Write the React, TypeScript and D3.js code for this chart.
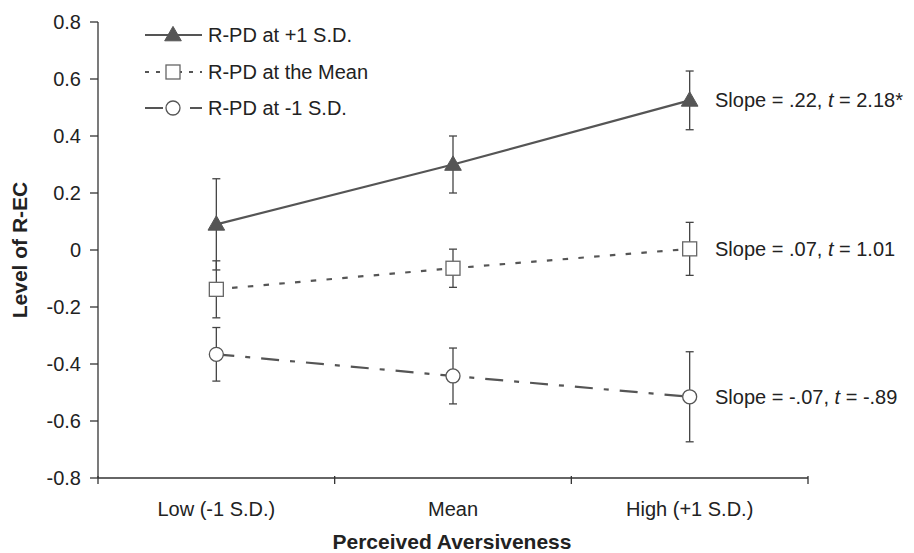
import React from "react";
import * as d3 from "d3";

const categories = ["Low (-1 S.D.)", "Mean", "High (+1 S.D.)"];
const seriesNames = ["R-PD at +1 S.D.", "R-PD at the Mean", "R-PD at -1 S.D."];
const highValues = [0.09, 0.30, 0.525];
const highErrors = [0.16, 0.1, 0.103];
const meanValues = [-0.138, -0.064, 0.004];
const meanErrors = [0.1, 0.067, 0.093];
const lowValues = [-0.366, -0.442, -0.515];
const lowErrors = [0.094, 0.098, 0.158];
const slopeLabels = [
  { pre: "Slope = .22, ", t: "t", post: " = 2.18*" },
  { pre: "Slope = .07, ", t: "t", post: " = 1.01" },
  { pre: "Slope = -.07, ", t: "t", post: " = -.89" },
];
const yTicks = [0.8, 0.6, 0.4, 0.2, 0, -0.2, -0.4, -0.6, -0.8];

const W = 914;
const H = 553;
const left = 98;
const right = 808;
const top = 22;
const bottom = 478;
const font = "'Liberation Sans', Arial, sans-serif";
const lineColor = "#555";
const FS = 20;
const FSB = 21;

const fmt = (t: number) => (t === 0 ? "0" : (t < 0 ? "-" : "") + Math.abs(t).toFixed(1));

export default function App() {
  const x = d3.scaleBand<string>().domain(categories).range([left, right]);
  const y = d3.scaleLinear().domain([-0.8, 0.8]).range([bottom, top]);
  const cx = (c: string) => (x(c) as number) + x.bandwidth() / 2;

  const series = [
    { name: seriesNames[0], values: highValues, errors: highErrors, dash: "none", marker: "tri" },
    { name: seriesNames[1], values: meanValues, errors: meanErrors, dash: "5.5,10.3", marker: "sq" },
    { name: seriesNames[2], values: lowValues, errors: lowErrors, dash: "18,11,5,11", marker: "circ" },
  ];

  const line = d3
    .line<number>()
    .x((_, i) => cx(categories[i]))
    .y((v) => y(v));

  const marker = (type: string, px: number, py: number, key: string) => {
    if (type === "tri") {
      const sym = d3.symbol().type(d3.symbolTriangle).size(120)();
      return <path key={key} d={sym as string} transform={`translate(${px},${py + 1})`} fill="#555" stroke="#555" strokeWidth={1} />;
    }
    if (type === "sq") {
      return <rect key={key} x={px - 7} y={py - 7} width={14} height={14} fill="#fff" stroke="#666" strokeWidth={1.3} />;
    }
    return <circle key={key} cx={px} cy={py} r={7} fill="#fff" stroke="#555" strokeWidth={1.3} />;
  };

  const legendY = [35, 72, 108];

  return (
    <svg width={W} height={H} style={{ position: "absolute", left: 0, top: 0, background: "#fff" }} fontFamily={font}>
      {/* y axis */}
      <line x1={left} x2={left} y1={top} y2={bottom} stroke="#333" strokeWidth={1.3} />
      {yTicks.map((t) => (
        <g key={t}>
          <line x1={left - 8} x2={left} y1={y(t)} y2={y(t)} stroke="#333" strokeWidth={1.3} />
          <text x={81} y={y(t)} dy="0.35em" textAnchor="end" fontSize={FS} fill="#222">
            {fmt(t)}
          </text>
        </g>
      ))}
      {/* x axis */}
      <line x1={left} x2={right} y1={bottom} y2={bottom} stroke="#333" strokeWidth={1.3} />
      {[...categories.map((c) => x(c) as number), right].map((t, i) => (
        <line key={i} x1={t} x2={t} y1={bottom - 2} y2={bottom + 6} stroke="#333" strokeWidth={1.3} />
      ))}
      {categories.map((c) => (
        <text key={c} x={cx(c)} y={516} textAnchor="middle" fontSize={FS} fill="#222">
          {c}
        </text>
      ))}
      <text x={452} y={549} textAnchor="middle" fontSize={FSB} fontWeight="bold" fill="#222">
        Perceived Aversiveness
      </text>
      <text transform={`translate(27,250) rotate(-90)`} textAnchor="middle" fontSize={FSB} fontWeight="bold" fill="#222">
        Level of R-EC
      </text>

      {/* error bars */}
      {series.map((s) =>
        s.values.map((v, i) => {
          const px = cx(categories[i]);
          const y1 = y(v + s.errors[i]);
          const y2 = y(v - s.errors[i]);
          return (
            <g key={s.name + i} stroke="#444" strokeWidth={1.3}>
              <line x1={px} x2={px} y1={y1} y2={y2} />
              <line x1={px - 4} x2={px + 4} y1={y1} y2={y1} />
              <line x1={px - 4} x2={px + 4} y1={y2} y2={y2} />
            </g>
          );
        })
      )}
      {/* lines */}
      {series.map((s) => (
        <path key={s.name} d={line(s.values) as string} fill="none" stroke={lineColor} strokeWidth={2.2} strokeDasharray={s.dash} />
      ))}
      {/* markers */}
      {series.map((s) => s.values.map((v, i) => marker(s.marker, cx(categories[i]), y(v), s.name + "m" + i)))}

      {/* slope labels */}
      {series.map((s, k) => (
        <text key={"sl" + k} x={715} y={y(s.values[2])} dy="0.35em" fontSize={FS} fill="#222">
          {slopeLabels[k].pre}
          <tspan fontStyle="italic">{slopeLabels[k].t}</tspan>
          {slopeLabels[k].post}
        </text>
      ))}

      {/* legend */}
      {series.map((s, k) => (
        <g key={"lg" + k}>
          <line x1={145} x2={202} y1={legendY[k]} y2={legendY[k]} stroke={lineColor} strokeWidth={2.2}
            strokeDasharray={k === 1 ? "4,7" : k === 2 ? "18,11,5,11" : "none"} />
          {marker(s.marker, 173, legendY[k], "lgm" + k)}
          <text x={208} y={legendY[k]} dy="0.35em" fontSize={FS} fill="#222">
            {s.name}
          </text>
        </g>
      ))}
    </svg>
  );
}
